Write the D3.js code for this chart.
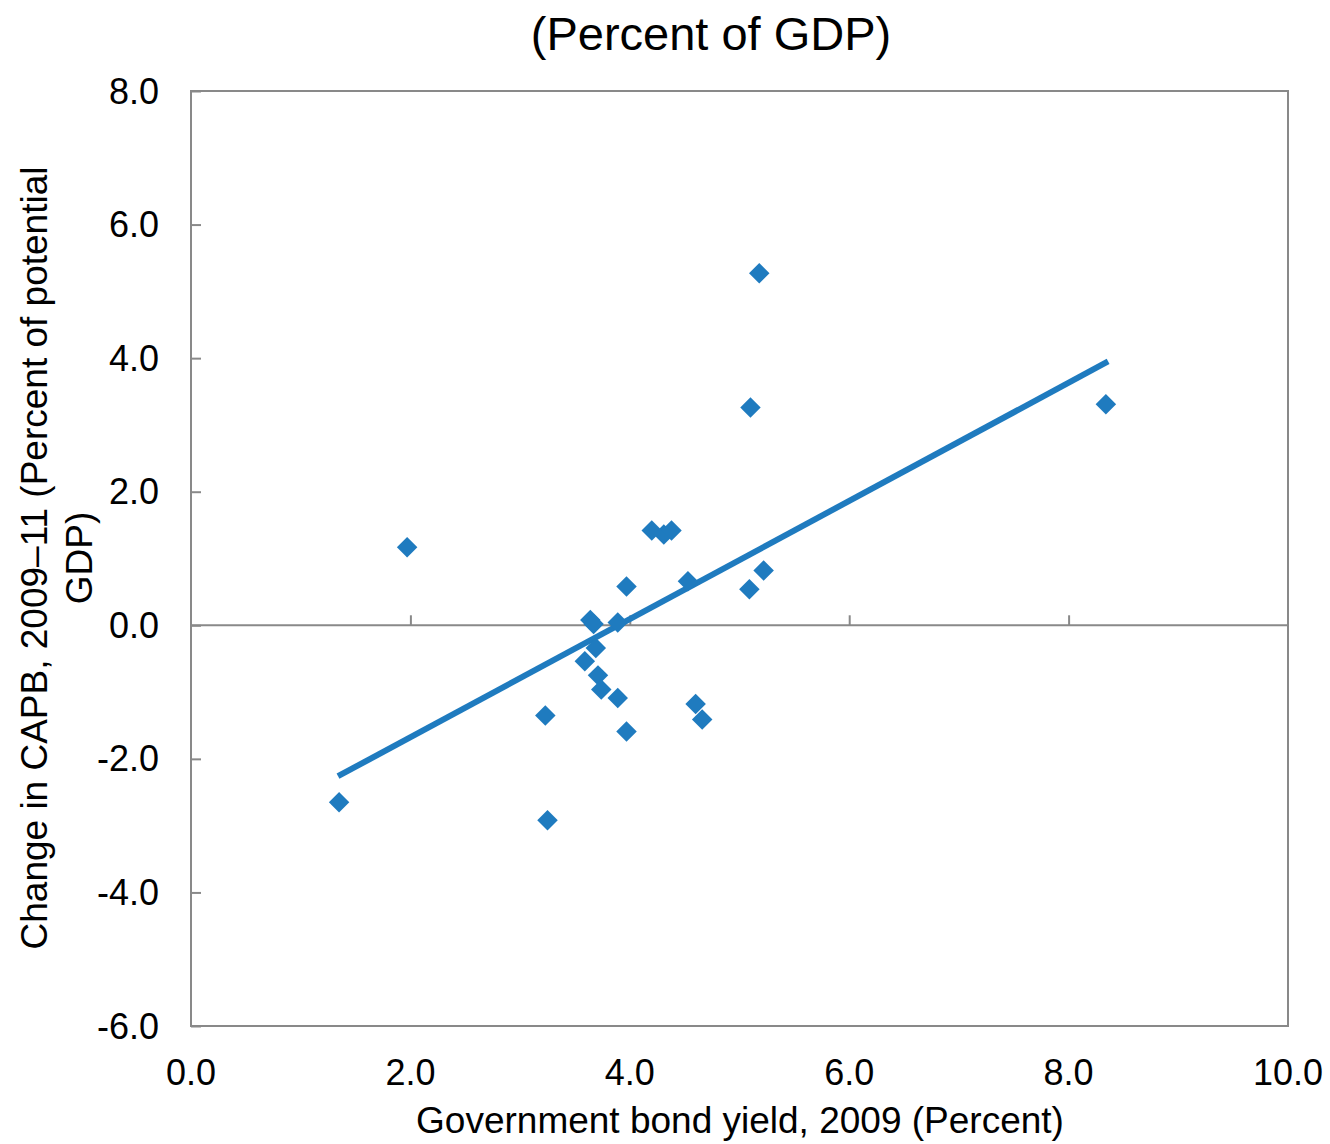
<!DOCTYPE html>
<html>
<head>
<meta charset="utf-8">
<script src="https://cdn.jsdelivr.net/npm/d3@7"></script>
<style>
  body { margin: 0; background: #fff; }
  text { font-family: "Liberation Sans", Arial, sans-serif; fill: #000; }
</style>
</head>
<body>
<div id="chart"></div>
<script>
// bond yield 2009 (percent) vs change in CAPB 2009-11
const bondYield = [1.35, 1.97, 3.23, 3.25, 3.59, 3.64, 3.67, 3.69, 3.71, 3.74, 3.89, 3.89, 3.97, 3.97, 4.20, 4.31, 4.38, 4.53, 4.60, 4.66, 5.09, 5.10, 5.18, 5.22, 8.34];
const capbChange = [-2.65, 1.17, -1.35, -2.92, -0.54, 0.08, 0.02, -0.34, -0.75, -0.96, -1.09, 0.04, 0.58, -1.59, 1.42, 1.36, 1.42, 0.66, -1.18, -1.41, 0.54, 3.26, 5.27, 0.82, 3.31];
const trendX = [1.34, 8.36];
const trendY = [-2.26, 3.95];
const xTicks = [0, 2, 4, 6, 8, 10];
const yTicks = [-6, -4, -2, 0, 2, 4, 6, 8];

const width = 1330, height = 1144;
const margin = {top: 91, right: 42, bottom: 118, left: 191};
const blue = "#1f7bbf", grey = "#898989";
const fmt = d => d.toFixed(1); // plain hyphen for negatives, as in the source

const svg = d3.select("#chart").append("svg")
  .attr("width", width).attr("height", height);

const x = d3.scaleLinear().domain([0, 10]).range([margin.left, width - margin.right]);
const y = d3.scaleLinear().domain([-6, 8]).range([height - margin.bottom, margin.top]);

// title
svg.append("text")
  .attr("x", 711).attr("y", 50)
  .attr("text-anchor", "middle")
  .style("font-size", "47px")
  .text("(Percent of GDP)");

// plot frame
svg.append("rect")
  .attr("x", x(0)).attr("y", y(8))
  .attr("width", x(10) - x(0)).attr("height", y(-6) - y(8))
  .attr("fill", "none").attr("stroke", grey).attr("stroke-width", 2);

// zero line
svg.append("line")
  .attr("x1", x(0)).attr("x2", x(10))
  .attr("y1", y(0)).attr("y2", y(0))
  .attr("stroke", grey).attr("stroke-width", 2);

// y axis ticks (inside) + labels
const yAxis = d3.axisRight(y).tickValues(yTicks).tickSize(10).tickFormat("");
const gy = svg.append("g").attr("transform", `translate(${x(0)},0)`).call(yAxis);
gy.select(".domain").remove();
gy.selectAll(".tick line").attr("stroke", grey).attr("stroke-width", 2);

svg.selectAll(".ylab").data(yTicks).join("text")
  .attr("class", "ylab")
  .attr("x", 159).attr("y", d => y(d))
  .attr("dy", "0.35em")
  .attr("text-anchor", "end")
  .style("font-size", "36px")
  .text(fmt);

// x axis ticks (on zero line, pointing up) + labels
const xAxis = d3.axisTop(x).tickValues(xTicks.slice(1, -1)).tickSize(10).tickFormat("");
const gx = svg.append("g").attr("transform", `translate(0,${y(0)})`).call(xAxis);
gx.select(".domain").remove();
gx.selectAll(".tick line").attr("stroke", grey).attr("stroke-width", 2);

svg.selectAll(".xlab").data(xTicks).join("text")
  .attr("class", "xlab")
  .attr("x", d => x(d)).attr("y", 1085)
  .attr("text-anchor", "middle")
  .style("font-size", "36px")
  .text(fmt);

// axis titles
svg.append("text")
  .attr("x", 740).attr("y", 1133)
  .attr("text-anchor", "middle")
  .style("font-size", "37px")
  .text("Government bond yield, 2009 (Percent)");

const yt = svg.append("text")
  .attr("transform", "translate(47,558) rotate(-90)")
  .attr("text-anchor", "middle")
  .style("font-size", "37px");
yt.append("tspan").attr("x", 0).attr("y", 0).text("Change in CAPB, 2009\u201311 (Percent of potential");
yt.append("tspan").attr("x", 0).attr("y", 45).text("GDP)");

// trend line
svg.append("line")
  .attr("x1", x(trendX[0])).attr("y1", y(trendY[0]))
  .attr("x2", x(trendX[1])).attr("y2", y(trendY[1]))
  .attr("stroke", blue).attr("stroke-width", 6);

// points
const pts = bondYield.map((v, i) => ({x: v, y: capbChange[i]}));
svg.selectAll(".pt").data(pts).join("path")
  .attr("class", "pt")
  .attr("d", d3.symbol(d3.symbolSquare, 210))
  .attr("transform", d => `translate(${x(d.x)},${y(d.y)}) rotate(45)`)
  .attr("fill", blue);
</script>
</body>
</html>
